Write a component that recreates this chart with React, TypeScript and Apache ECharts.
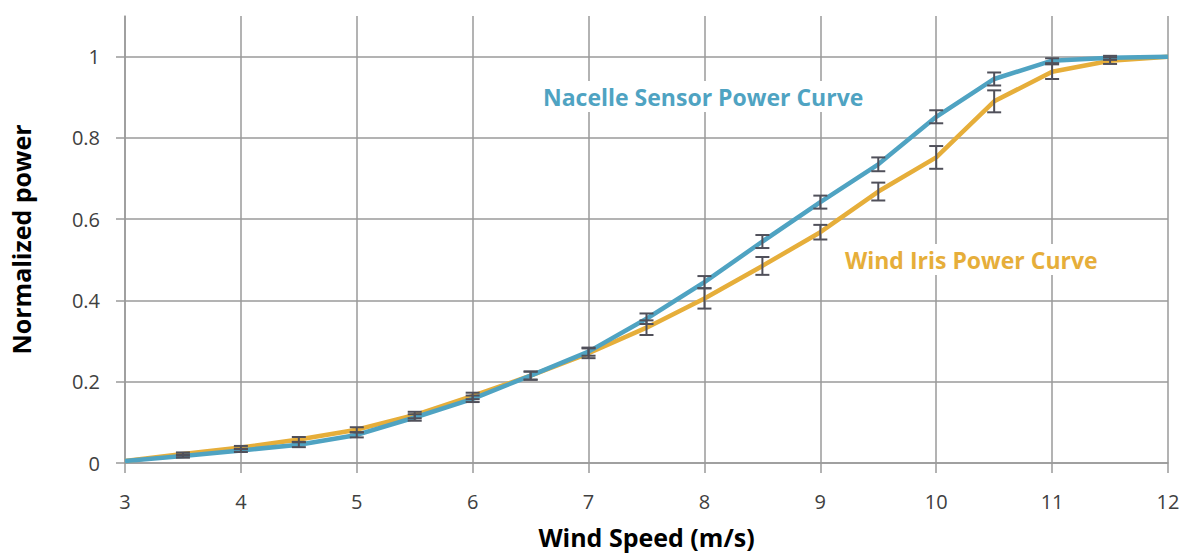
import React, { useEffect, useRef } from "react";
import * as echarts from "echarts";

const windSpeed = [3, 3.5, 4, 4.5, 5, 5.5, 6, 6.5, 7, 7.5, 8, 8.5, 9, 9.5, 10, 10.5, 11, 11.5, 12];
const nacellePower = [0.005, 0.017, 0.031, 0.045, 0.069, 0.112, 0.158, 0.215, 0.274, 0.355, 0.445, 0.545, 0.642, 0.735, 0.852, 0.945, 0.99, 0.997, 1.0];
const nacelleError = [0, 0.004, 0.004, 0.006, 0.006, 0.008, 0.008, 0.01, 0.01, 0.013, 0.015, 0.016, 0.016, 0.017, 0.016, 0.016, 0.006, 0.005, 0];
const irisPower = [0.005, 0.022, 0.038, 0.058, 0.082, 0.118, 0.165, 0.215, 0.27, 0.333, 0.405, 0.485, 0.568, 0.668, 0.752, 0.89, 0.963, 0.99, 1.0];
const irisError = [0, 0.004, 0.004, 0.006, 0.006, 0.008, 0.008, 0.01, 0.012, 0.018, 0.025, 0.022, 0.018, 0.022, 0.028, 0.027, 0.018, 0.008, 0];
const yTicks = [0, 0.2, 0.4, 0.6, 0.8, 1];

const BLUE = "#4FA3C2";
const ORANGE = "#E6AE3A";
const FONT = "'Open Sans', Lato, sans-serif";

function errorSeries(name: string, values: number[], errors: number[]) {
  const data = windSpeed
    .map((x, i) => [x, values[i] - errors[i], values[i] + errors[i], errors[i]])
    .filter((d) => d[3] > 0);
  return {
    name,
    type: "custom",
    z: 5,
    silent: true,
    data,
    renderItem: (_params: any, api: any) => {
      const x = api.value(0);
      const lo = api.coord([x, api.value(1)]);
      const hi = api.coord([x, api.value(2)]);
      const w = 7;
      const style = { stroke: "#50505a", lineWidth: 2, fill: "none" };
      return {
        type: "group",
        children: [
          { type: "line", shape: { x1: lo[0], y1: lo[1], x2: hi[0], y2: hi[1] }, style },
          { type: "line", shape: { x1: lo[0] - w, y1: lo[1], x2: lo[0] + w, y2: lo[1] }, style },
          { type: "line", shape: { x1: hi[0] - w, y1: hi[1], x2: hi[0] + w, y2: hi[1] }, style },
        ],
      };
    },
  };
}

export default function App() {
  const ref = useRef<HTMLDivElement>(null);
  useEffect(() => {
    document.body.style.margin = "0";
    const chart = echarts.init(ref.current!, undefined, { renderer: "svg" });
    chart.setOption({
      animation: false,
      backgroundColor: "#ffffff",
      grid: { left: 122, right: 16, top: 16, bottom: 89, containLabel: false },
      xAxis: {
        type: "value",
        min: 3,
        max: 12,
        interval: 1,
        name: "Wind Speed (m/s)",
        nameLocation: "middle",
        nameGap: 61,
        nameTextStyle: { fontFamily: FONT, fontWeight: "bold", fontSize: 25, color: "#000" },
        axisLine: { show: true, lineStyle: { color: "#9a9a9a", width: 1.5 } },
        axisTick: { show: true, length: 10, lineStyle: { color: "#9a9a9a", width: 1.5 } },
        axisLabel: { fontFamily: FONT, fontSize: 20, color: "#404040", margin: 28 },
        splitLine: { show: true, lineStyle: { color: "#9a9a9a", width: 1.5 } },
      },
      yAxis: {
        type: "value",
        min: 0,
        max: 1.1,
        interval: 0.2,
        name: "Normalized power",
        nameLocation: "middle",
        nameGap: 92,
        nameTextStyle: { fontFamily: FONT, fontWeight: "bold", fontSize: 25, color: "#000" },
        axisLine: { show: true, lineStyle: { color: "#9a9a9a", width: 1.5 } },
        axisTick: { show: true, length: 9, lineStyle: { color: "#9a9a9a", width: 1.5 } },
        axisLabel: {
          fontFamily: FONT,
          fontSize: 20,
          color: "#404040",
          margin: 25,
          showMaxLabel: false,
          formatter: (v: number) => {
            const t = yTicks.find((y) => Math.abs(y - v) < 1e-6);
            return t === undefined ? "" : String(t);
          },
        },
        splitLine: {
          show: true,
          lineStyle: {
            color: ["#9a9a9a", "#9a9a9a", "#9a9a9a", "#9a9a9a", "#9a9a9a", "#9a9a9a", "rgba(0,0,0,0)"],
            width: 1.5,
          },
        },
      },
      graphic: [
        {
          type: "text",
          left: 539,
          top: 81,
          z: 100,
          style: {
            text: "Nacelle Sensor Power Curve",
            fill: BLUE,
            font: `bold 23px ${FONT}`,
            backgroundColor: "#ffffff",
            padding: [4, 4],
          },
        },
        {
          type: "text",
          left: 841,
          top: 244,
          z: 100,
          style: {
            text: "Wind Iris Power Curve",
            fill: ORANGE,
            font: `bold 23px ${FONT}`,
            backgroundColor: "#ffffff",
            padding: [4, 4],
          },
        },
      ],
      series: [
        {
          name: "Wind Iris Power Curve",
          type: "line",
          data: windSpeed.map((x, i) => [x, irisPower[i]]),
          showSymbol: false,
          symbol: "none",
          lineStyle: { color: ORANGE, width: 4.5 },
          itemStyle: { color: ORANGE },
          z: 2,
        },
        {
          name: "Nacelle Sensor Power Curve",
          type: "line",
          data: windSpeed.map((x, i) => [x, nacellePower[i]]),
          showSymbol: false,
          symbol: "none",
          lineStyle: { color: BLUE, width: 4.5 },
          itemStyle: { color: BLUE },
          z: 3,
        },
        errorSeries("Wind Iris error", irisPower, irisError),
        errorSeries("Nacelle error", nacellePower, nacelleError),
      ],
    });
    return () => chart.dispose();
  }, []);
  return <div ref={ref} style={{ width: 1184, height: 554 }} />;
}
